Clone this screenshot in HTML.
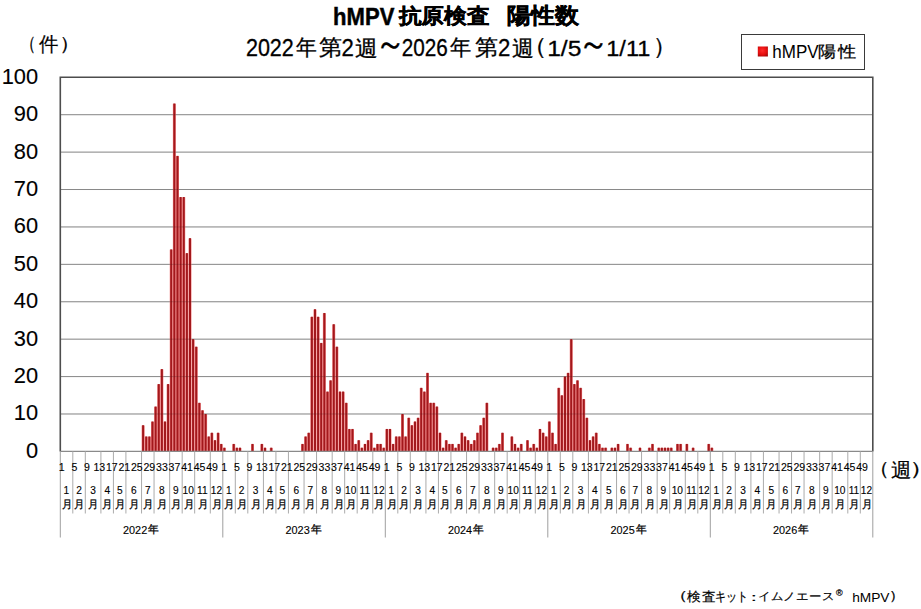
<!DOCTYPE html>
<html><head><meta charset="utf-8">
<style>
html,body{margin:0;padding:0;background:#fff;}
body{width:921px;height:609px;position:relative;overflow:hidden;font-family:"Liberation Sans", sans-serif;}
svg{position:absolute;left:0;top:0;}
</style></head><body>
<svg width="921" height="609" viewBox="0 0 921 609" font-family='"Liberation Sans", sans-serif' fill="#000">
<defs><radialGradient id="mk" cx="0.45" cy="0.4" r="0.7"><stop offset="0" stop-color="#ff2a2a"/><stop offset="0.6" stop-color="#e60f0f"/><stop offset="1" stop-color="#a00808"/></radialGradient></defs>
<rect x="741.5" y="34.5" width="123" height="35" fill="#fff" stroke="#3a3a3a" stroke-width="1"/>
<rect x="757.8" y="46.5" width="10.1" height="10" fill="url(#mk)"/>
<line x1="60.3" y1="413.99" x2="872.80" y2="413.99" stroke="#a0a0a0" stroke-width="1"/>
<line x1="60.3" y1="376.58" x2="872.80" y2="376.58" stroke="#a0a0a0" stroke-width="1"/>
<line x1="60.3" y1="339.17" x2="872.80" y2="339.17" stroke="#a0a0a0" stroke-width="1"/>
<line x1="60.3" y1="301.76" x2="872.80" y2="301.76" stroke="#a0a0a0" stroke-width="1"/>
<line x1="60.3" y1="264.35" x2="872.80" y2="264.35" stroke="#a0a0a0" stroke-width="1"/>
<line x1="60.3" y1="226.94" x2="872.80" y2="226.94" stroke="#a0a0a0" stroke-width="1"/>
<line x1="60.3" y1="189.53" x2="872.80" y2="189.53" stroke="#a0a0a0" stroke-width="1"/>
<line x1="60.3" y1="152.12" x2="872.80" y2="152.12" stroke="#a0a0a0" stroke-width="1"/>
<line x1="60.3" y1="114.71" x2="872.80" y2="114.71" stroke="#a0a0a0" stroke-width="1"/>
<rect x="141.61" y="425.51" width="3.0" height="25.89" fill="#f38282"/>
<rect x="144.74" y="436.74" width="3.0" height="14.66" fill="#f38282"/>
<rect x="147.86" y="436.74" width="3.0" height="14.66" fill="#f38282"/>
<rect x="150.99" y="421.77" width="3.0" height="29.63" fill="#f38282"/>
<rect x="154.11" y="406.81" width="3.0" height="44.59" fill="#f38282"/>
<rect x="157.24" y="384.36" width="3.0" height="67.04" fill="#f38282"/>
<rect x="160.36" y="369.40" width="3.0" height="82.00" fill="#f38282"/>
<rect x="163.49" y="421.77" width="3.0" height="29.63" fill="#f38282"/>
<rect x="166.61" y="384.36" width="3.0" height="67.04" fill="#f38282"/>
<rect x="169.74" y="249.69" width="3.0" height="201.71" fill="#f38282"/>
<rect x="172.86" y="103.79" width="3.0" height="347.61" fill="#f38282"/>
<rect x="175.99" y="156.16" width="3.0" height="295.24" fill="#f38282"/>
<rect x="179.11" y="197.31" width="3.0" height="254.09" fill="#f38282"/>
<rect x="182.24" y="197.31" width="3.0" height="254.09" fill="#f38282"/>
<rect x="185.36" y="253.43" width="3.0" height="197.97" fill="#f38282"/>
<rect x="188.49" y="238.46" width="3.0" height="212.94" fill="#f38282"/>
<rect x="191.61" y="339.47" width="3.0" height="111.93" fill="#f38282"/>
<rect x="194.74" y="346.95" width="3.0" height="104.45" fill="#f38282"/>
<rect x="197.86" y="403.07" width="3.0" height="48.33" fill="#f38282"/>
<rect x="200.99" y="410.55" width="3.0" height="40.85" fill="#f38282"/>
<rect x="204.11" y="414.29" width="3.0" height="37.11" fill="#f38282"/>
<rect x="207.24" y="436.74" width="3.0" height="14.66" fill="#f38282"/>
<rect x="210.36" y="433.00" width="3.0" height="18.41" fill="#f38282"/>
<rect x="213.49" y="440.48" width="3.0" height="10.92" fill="#f38282"/>
<rect x="216.61" y="433.00" width="3.0" height="18.41" fill="#f38282"/>
<rect x="219.74" y="444.22" width="3.0" height="7.18" fill="#f38282"/>
<rect x="222.86" y="447.96" width="3.0" height="3.44" fill="#f38282"/>
<rect x="232.24" y="444.22" width="3.0" height="7.18" fill="#f38282"/>
<rect x="235.36" y="447.96" width="3.0" height="3.44" fill="#f38282"/>
<rect x="238.49" y="447.96" width="3.0" height="3.44" fill="#f38282"/>
<rect x="250.99" y="444.22" width="3.0" height="7.18" fill="#f38282"/>
<rect x="260.36" y="444.22" width="3.0" height="7.18" fill="#f38282"/>
<rect x="263.49" y="447.96" width="3.0" height="3.44" fill="#f38282"/>
<rect x="269.74" y="447.96" width="3.0" height="3.44" fill="#f38282"/>
<rect x="300.99" y="444.22" width="3.0" height="7.18" fill="#f38282"/>
<rect x="304.11" y="436.74" width="3.0" height="14.66" fill="#f38282"/>
<rect x="307.24" y="433.00" width="3.0" height="18.41" fill="#f38282"/>
<rect x="310.36" y="317.02" width="3.0" height="134.38" fill="#f38282"/>
<rect x="313.49" y="309.54" width="3.0" height="141.86" fill="#f38282"/>
<rect x="316.61" y="317.02" width="3.0" height="134.38" fill="#f38282"/>
<rect x="319.74" y="343.21" width="3.0" height="108.19" fill="#f38282"/>
<rect x="322.86" y="313.28" width="3.0" height="138.12" fill="#f38282"/>
<rect x="325.99" y="391.84" width="3.0" height="59.56" fill="#f38282"/>
<rect x="329.11" y="380.62" width="3.0" height="70.78" fill="#f38282"/>
<rect x="332.24" y="324.51" width="3.0" height="126.89" fill="#f38282"/>
<rect x="335.36" y="346.95" width="3.0" height="104.45" fill="#f38282"/>
<rect x="338.49" y="391.84" width="3.0" height="59.56" fill="#f38282"/>
<rect x="341.61" y="391.84" width="3.0" height="59.56" fill="#f38282"/>
<rect x="344.74" y="403.07" width="3.0" height="48.33" fill="#f38282"/>
<rect x="347.86" y="429.25" width="3.0" height="22.15" fill="#f38282"/>
<rect x="350.99" y="429.25" width="3.0" height="22.15" fill="#f38282"/>
<rect x="354.11" y="444.22" width="3.0" height="7.18" fill="#f38282"/>
<rect x="357.24" y="440.48" width="3.0" height="10.92" fill="#f38282"/>
<rect x="360.36" y="447.96" width="3.0" height="3.44" fill="#f38282"/>
<rect x="363.49" y="444.22" width="3.0" height="7.18" fill="#f38282"/>
<rect x="366.61" y="440.48" width="3.0" height="10.92" fill="#f38282"/>
<rect x="369.74" y="433.00" width="3.0" height="18.41" fill="#f38282"/>
<rect x="372.86" y="447.96" width="3.0" height="3.44" fill="#f38282"/>
<rect x="375.99" y="444.22" width="3.0" height="7.18" fill="#f38282"/>
<rect x="379.11" y="444.22" width="3.0" height="7.18" fill="#f38282"/>
<rect x="382.24" y="447.96" width="3.0" height="3.44" fill="#f38282"/>
<rect x="385.36" y="429.25" width="3.0" height="22.15" fill="#f38282"/>
<rect x="388.49" y="429.25" width="3.0" height="22.15" fill="#f38282"/>
<rect x="391.61" y="444.22" width="3.0" height="7.18" fill="#f38282"/>
<rect x="394.74" y="436.74" width="3.0" height="14.66" fill="#f38282"/>
<rect x="397.86" y="436.74" width="3.0" height="14.66" fill="#f38282"/>
<rect x="400.99" y="414.29" width="3.0" height="37.11" fill="#f38282"/>
<rect x="404.11" y="436.74" width="3.0" height="14.66" fill="#f38282"/>
<rect x="407.24" y="418.03" width="3.0" height="33.37" fill="#f38282"/>
<rect x="410.36" y="425.51" width="3.0" height="25.89" fill="#f38282"/>
<rect x="413.49" y="421.77" width="3.0" height="29.63" fill="#f38282"/>
<rect x="416.61" y="418.03" width="3.0" height="33.37" fill="#f38282"/>
<rect x="419.74" y="388.10" width="3.0" height="63.30" fill="#f38282"/>
<rect x="422.86" y="391.84" width="3.0" height="59.56" fill="#f38282"/>
<rect x="425.99" y="373.14" width="3.0" height="78.26" fill="#f38282"/>
<rect x="429.11" y="403.07" width="3.0" height="48.33" fill="#f38282"/>
<rect x="432.24" y="403.07" width="3.0" height="48.33" fill="#f38282"/>
<rect x="435.36" y="406.81" width="3.0" height="44.59" fill="#f38282"/>
<rect x="438.49" y="433.00" width="3.0" height="18.41" fill="#f38282"/>
<rect x="441.61" y="447.96" width="3.0" height="3.44" fill="#f38282"/>
<rect x="444.74" y="440.48" width="3.0" height="10.92" fill="#f38282"/>
<rect x="447.86" y="444.22" width="3.0" height="7.18" fill="#f38282"/>
<rect x="450.99" y="444.22" width="3.0" height="7.18" fill="#f38282"/>
<rect x="454.11" y="447.96" width="3.0" height="3.44" fill="#f38282"/>
<rect x="457.24" y="444.22" width="3.0" height="7.18" fill="#f38282"/>
<rect x="460.36" y="433.00" width="3.0" height="18.41" fill="#f38282"/>
<rect x="463.49" y="436.74" width="3.0" height="14.66" fill="#f38282"/>
<rect x="466.61" y="440.48" width="3.0" height="10.92" fill="#f38282"/>
<rect x="469.74" y="444.22" width="3.0" height="7.18" fill="#f38282"/>
<rect x="472.86" y="440.48" width="3.0" height="10.92" fill="#f38282"/>
<rect x="475.99" y="433.00" width="3.0" height="18.41" fill="#f38282"/>
<rect x="479.11" y="425.51" width="3.0" height="25.89" fill="#f38282"/>
<rect x="482.24" y="418.03" width="3.0" height="33.37" fill="#f38282"/>
<rect x="485.36" y="403.07" width="3.0" height="48.33" fill="#f38282"/>
<rect x="491.61" y="447.96" width="3.0" height="3.44" fill="#f38282"/>
<rect x="494.74" y="447.96" width="3.0" height="3.44" fill="#f38282"/>
<rect x="497.86" y="444.22" width="3.0" height="7.18" fill="#f38282"/>
<rect x="500.99" y="433.00" width="3.0" height="18.41" fill="#f38282"/>
<rect x="510.36" y="436.74" width="3.0" height="14.66" fill="#f38282"/>
<rect x="513.49" y="444.22" width="3.0" height="7.18" fill="#f38282"/>
<rect x="516.61" y="447.96" width="3.0" height="3.44" fill="#f38282"/>
<rect x="519.74" y="444.22" width="3.0" height="7.18" fill="#f38282"/>
<rect x="525.99" y="440.48" width="3.0" height="10.92" fill="#f38282"/>
<rect x="529.11" y="447.96" width="3.0" height="3.44" fill="#f38282"/>
<rect x="532.24" y="444.22" width="3.0" height="7.18" fill="#f38282"/>
<rect x="535.36" y="447.96" width="3.0" height="3.44" fill="#f38282"/>
<rect x="538.49" y="429.25" width="3.0" height="22.15" fill="#f38282"/>
<rect x="541.61" y="433.00" width="3.0" height="18.41" fill="#f38282"/>
<rect x="544.74" y="436.74" width="3.0" height="14.66" fill="#f38282"/>
<rect x="547.86" y="421.77" width="3.0" height="29.63" fill="#f38282"/>
<rect x="550.99" y="433.00" width="3.0" height="18.41" fill="#f38282"/>
<rect x="554.11" y="444.22" width="3.0" height="7.18" fill="#f38282"/>
<rect x="557.24" y="388.10" width="3.0" height="63.30" fill="#f38282"/>
<rect x="560.36" y="395.58" width="3.0" height="55.82" fill="#f38282"/>
<rect x="563.49" y="376.88" width="3.0" height="74.52" fill="#f38282"/>
<rect x="566.61" y="373.14" width="3.0" height="78.26" fill="#f38282"/>
<rect x="569.74" y="339.47" width="3.0" height="111.93" fill="#f38282"/>
<rect x="572.86" y="384.36" width="3.0" height="67.04" fill="#f38282"/>
<rect x="575.99" y="380.62" width="3.0" height="70.78" fill="#f38282"/>
<rect x="579.11" y="388.10" width="3.0" height="63.30" fill="#f38282"/>
<rect x="582.24" y="399.33" width="3.0" height="52.07" fill="#f38282"/>
<rect x="585.36" y="418.03" width="3.0" height="33.37" fill="#f38282"/>
<rect x="588.49" y="440.48" width="3.0" height="10.92" fill="#f38282"/>
<rect x="591.61" y="436.74" width="3.0" height="14.66" fill="#f38282"/>
<rect x="594.74" y="433.00" width="3.0" height="18.41" fill="#f38282"/>
<rect x="597.86" y="444.22" width="3.0" height="7.18" fill="#f38282"/>
<rect x="600.99" y="447.96" width="3.0" height="3.44" fill="#f38282"/>
<rect x="604.11" y="447.96" width="3.0" height="3.44" fill="#f38282"/>
<rect x="610.36" y="447.96" width="3.0" height="3.44" fill="#f38282"/>
<rect x="613.49" y="447.96" width="3.0" height="3.44" fill="#f38282"/>
<rect x="616.61" y="444.22" width="3.0" height="7.18" fill="#f38282"/>
<rect x="625.99" y="444.22" width="3.0" height="7.18" fill="#f38282"/>
<rect x="629.11" y="447.96" width="3.0" height="3.44" fill="#f38282"/>
<rect x="638.49" y="447.96" width="3.0" height="3.44" fill="#f38282"/>
<rect x="647.86" y="447.96" width="3.0" height="3.44" fill="#f38282"/>
<rect x="650.99" y="444.22" width="3.0" height="7.18" fill="#f38282"/>
<rect x="657.24" y="447.96" width="3.0" height="3.44" fill="#f38282"/>
<rect x="660.36" y="447.96" width="3.0" height="3.44" fill="#f38282"/>
<rect x="663.49" y="447.96" width="3.0" height="3.44" fill="#f38282"/>
<rect x="666.61" y="447.96" width="3.0" height="3.44" fill="#f38282"/>
<rect x="669.74" y="447.96" width="3.0" height="3.44" fill="#f38282"/>
<rect x="675.99" y="444.22" width="3.0" height="7.18" fill="#f38282"/>
<rect x="679.11" y="444.22" width="3.0" height="7.18" fill="#f38282"/>
<rect x="685.36" y="444.22" width="3.0" height="7.18" fill="#f38282"/>
<rect x="691.61" y="447.96" width="3.0" height="3.44" fill="#f38282"/>
<rect x="707.24" y="444.22" width="3.0" height="7.18" fill="#f38282"/>
<rect x="710.36" y="447.96" width="3.0" height="3.44" fill="#f38282"/>
<rect x="142.11" y="425.21" width="2.0" height="26.19" fill="#a2181c"/>
<rect x="145.24" y="436.44" width="2.0" height="14.96" fill="#a2181c"/>
<rect x="148.36" y="436.44" width="2.0" height="14.96" fill="#a2181c"/>
<rect x="151.49" y="421.47" width="2.0" height="29.93" fill="#a2181c"/>
<rect x="154.61" y="406.51" width="2.0" height="44.89" fill="#a2181c"/>
<rect x="157.74" y="384.06" width="2.0" height="67.34" fill="#a2181c"/>
<rect x="160.86" y="369.10" width="2.0" height="82.30" fill="#a2181c"/>
<rect x="163.99" y="421.47" width="2.0" height="29.93" fill="#a2181c"/>
<rect x="167.11" y="384.06" width="2.0" height="67.34" fill="#a2181c"/>
<rect x="170.24" y="249.39" width="2.0" height="202.01" fill="#a2181c"/>
<rect x="173.36" y="103.49" width="2.0" height="347.91" fill="#a2181c"/>
<rect x="176.49" y="155.86" width="2.0" height="295.54" fill="#a2181c"/>
<rect x="179.61" y="197.01" width="2.0" height="254.39" fill="#a2181c"/>
<rect x="182.74" y="197.01" width="2.0" height="254.39" fill="#a2181c"/>
<rect x="185.86" y="253.13" width="2.0" height="198.27" fill="#a2181c"/>
<rect x="188.99" y="238.16" width="2.0" height="213.24" fill="#a2181c"/>
<rect x="192.11" y="339.17" width="2.0" height="112.23" fill="#a2181c"/>
<rect x="195.24" y="346.65" width="2.0" height="104.75" fill="#a2181c"/>
<rect x="198.36" y="402.77" width="2.0" height="48.63" fill="#a2181c"/>
<rect x="201.49" y="410.25" width="2.0" height="41.15" fill="#a2181c"/>
<rect x="204.61" y="413.99" width="2.0" height="37.41" fill="#a2181c"/>
<rect x="207.74" y="436.44" width="2.0" height="14.96" fill="#a2181c"/>
<rect x="210.86" y="432.69" width="2.0" height="18.71" fill="#a2181c"/>
<rect x="213.99" y="440.18" width="2.0" height="11.22" fill="#a2181c"/>
<rect x="217.11" y="432.69" width="2.0" height="18.71" fill="#a2181c"/>
<rect x="220.24" y="443.92" width="2.0" height="7.48" fill="#a2181c"/>
<rect x="223.36" y="447.66" width="2.0" height="3.74" fill="#a2181c"/>
<rect x="232.74" y="443.92" width="2.0" height="7.48" fill="#a2181c"/>
<rect x="235.86" y="447.66" width="2.0" height="3.74" fill="#a2181c"/>
<rect x="238.99" y="447.66" width="2.0" height="3.74" fill="#a2181c"/>
<rect x="251.49" y="443.92" width="2.0" height="7.48" fill="#a2181c"/>
<rect x="260.86" y="443.92" width="2.0" height="7.48" fill="#a2181c"/>
<rect x="263.99" y="447.66" width="2.0" height="3.74" fill="#a2181c"/>
<rect x="270.24" y="447.66" width="2.0" height="3.74" fill="#a2181c"/>
<rect x="301.49" y="443.92" width="2.0" height="7.48" fill="#a2181c"/>
<rect x="304.61" y="436.44" width="2.0" height="14.96" fill="#a2181c"/>
<rect x="307.74" y="432.69" width="2.0" height="18.71" fill="#a2181c"/>
<rect x="310.86" y="316.72" width="2.0" height="134.68" fill="#a2181c"/>
<rect x="313.99" y="309.24" width="2.0" height="142.16" fill="#a2181c"/>
<rect x="317.11" y="316.72" width="2.0" height="134.68" fill="#a2181c"/>
<rect x="320.24" y="342.91" width="2.0" height="108.49" fill="#a2181c"/>
<rect x="323.36" y="312.98" width="2.0" height="138.42" fill="#a2181c"/>
<rect x="326.49" y="391.54" width="2.0" height="59.86" fill="#a2181c"/>
<rect x="329.61" y="380.32" width="2.0" height="71.08" fill="#a2181c"/>
<rect x="332.74" y="324.21" width="2.0" height="127.19" fill="#a2181c"/>
<rect x="335.86" y="346.65" width="2.0" height="104.75" fill="#a2181c"/>
<rect x="338.99" y="391.54" width="2.0" height="59.86" fill="#a2181c"/>
<rect x="342.11" y="391.54" width="2.0" height="59.86" fill="#a2181c"/>
<rect x="345.24" y="402.77" width="2.0" height="48.63" fill="#a2181c"/>
<rect x="348.36" y="428.95" width="2.0" height="22.45" fill="#a2181c"/>
<rect x="351.49" y="428.95" width="2.0" height="22.45" fill="#a2181c"/>
<rect x="354.61" y="443.92" width="2.0" height="7.48" fill="#a2181c"/>
<rect x="357.74" y="440.18" width="2.0" height="11.22" fill="#a2181c"/>
<rect x="360.86" y="447.66" width="2.0" height="3.74" fill="#a2181c"/>
<rect x="363.99" y="443.92" width="2.0" height="7.48" fill="#a2181c"/>
<rect x="367.11" y="440.18" width="2.0" height="11.22" fill="#a2181c"/>
<rect x="370.24" y="432.69" width="2.0" height="18.71" fill="#a2181c"/>
<rect x="373.36" y="447.66" width="2.0" height="3.74" fill="#a2181c"/>
<rect x="376.49" y="443.92" width="2.0" height="7.48" fill="#a2181c"/>
<rect x="379.61" y="443.92" width="2.0" height="7.48" fill="#a2181c"/>
<rect x="382.74" y="447.66" width="2.0" height="3.74" fill="#a2181c"/>
<rect x="385.86" y="428.95" width="2.0" height="22.45" fill="#a2181c"/>
<rect x="388.99" y="428.95" width="2.0" height="22.45" fill="#a2181c"/>
<rect x="392.11" y="443.92" width="2.0" height="7.48" fill="#a2181c"/>
<rect x="395.24" y="436.44" width="2.0" height="14.96" fill="#a2181c"/>
<rect x="398.36" y="436.44" width="2.0" height="14.96" fill="#a2181c"/>
<rect x="401.49" y="413.99" width="2.0" height="37.41" fill="#a2181c"/>
<rect x="404.61" y="436.44" width="2.0" height="14.96" fill="#a2181c"/>
<rect x="407.74" y="417.73" width="2.0" height="33.67" fill="#a2181c"/>
<rect x="410.86" y="425.21" width="2.0" height="26.19" fill="#a2181c"/>
<rect x="413.99" y="421.47" width="2.0" height="29.93" fill="#a2181c"/>
<rect x="417.11" y="417.73" width="2.0" height="33.67" fill="#a2181c"/>
<rect x="420.24" y="387.80" width="2.0" height="63.60" fill="#a2181c"/>
<rect x="423.36" y="391.54" width="2.0" height="59.86" fill="#a2181c"/>
<rect x="426.49" y="372.84" width="2.0" height="78.56" fill="#a2181c"/>
<rect x="429.61" y="402.77" width="2.0" height="48.63" fill="#a2181c"/>
<rect x="432.74" y="402.77" width="2.0" height="48.63" fill="#a2181c"/>
<rect x="435.86" y="406.51" width="2.0" height="44.89" fill="#a2181c"/>
<rect x="438.99" y="432.69" width="2.0" height="18.71" fill="#a2181c"/>
<rect x="442.11" y="447.66" width="2.0" height="3.74" fill="#a2181c"/>
<rect x="445.24" y="440.18" width="2.0" height="11.22" fill="#a2181c"/>
<rect x="448.36" y="443.92" width="2.0" height="7.48" fill="#a2181c"/>
<rect x="451.49" y="443.92" width="2.0" height="7.48" fill="#a2181c"/>
<rect x="454.61" y="447.66" width="2.0" height="3.74" fill="#a2181c"/>
<rect x="457.74" y="443.92" width="2.0" height="7.48" fill="#a2181c"/>
<rect x="460.86" y="432.69" width="2.0" height="18.71" fill="#a2181c"/>
<rect x="463.99" y="436.44" width="2.0" height="14.96" fill="#a2181c"/>
<rect x="467.11" y="440.18" width="2.0" height="11.22" fill="#a2181c"/>
<rect x="470.24" y="443.92" width="2.0" height="7.48" fill="#a2181c"/>
<rect x="473.36" y="440.18" width="2.0" height="11.22" fill="#a2181c"/>
<rect x="476.49" y="432.69" width="2.0" height="18.71" fill="#a2181c"/>
<rect x="479.61" y="425.21" width="2.0" height="26.19" fill="#a2181c"/>
<rect x="482.74" y="417.73" width="2.0" height="33.67" fill="#a2181c"/>
<rect x="485.86" y="402.77" width="2.0" height="48.63" fill="#a2181c"/>
<rect x="492.11" y="447.66" width="2.0" height="3.74" fill="#a2181c"/>
<rect x="495.24" y="447.66" width="2.0" height="3.74" fill="#a2181c"/>
<rect x="498.36" y="443.92" width="2.0" height="7.48" fill="#a2181c"/>
<rect x="501.49" y="432.69" width="2.0" height="18.71" fill="#a2181c"/>
<rect x="510.86" y="436.44" width="2.0" height="14.96" fill="#a2181c"/>
<rect x="513.99" y="443.92" width="2.0" height="7.48" fill="#a2181c"/>
<rect x="517.11" y="447.66" width="2.0" height="3.74" fill="#a2181c"/>
<rect x="520.24" y="443.92" width="2.0" height="7.48" fill="#a2181c"/>
<rect x="526.49" y="440.18" width="2.0" height="11.22" fill="#a2181c"/>
<rect x="529.61" y="447.66" width="2.0" height="3.74" fill="#a2181c"/>
<rect x="532.74" y="443.92" width="2.0" height="7.48" fill="#a2181c"/>
<rect x="535.86" y="447.66" width="2.0" height="3.74" fill="#a2181c"/>
<rect x="538.99" y="428.95" width="2.0" height="22.45" fill="#a2181c"/>
<rect x="542.11" y="432.69" width="2.0" height="18.71" fill="#a2181c"/>
<rect x="545.24" y="436.44" width="2.0" height="14.96" fill="#a2181c"/>
<rect x="548.36" y="421.47" width="2.0" height="29.93" fill="#a2181c"/>
<rect x="551.49" y="432.69" width="2.0" height="18.71" fill="#a2181c"/>
<rect x="554.61" y="443.92" width="2.0" height="7.48" fill="#a2181c"/>
<rect x="557.74" y="387.80" width="2.0" height="63.60" fill="#a2181c"/>
<rect x="560.86" y="395.28" width="2.0" height="56.12" fill="#a2181c"/>
<rect x="563.99" y="376.58" width="2.0" height="74.82" fill="#a2181c"/>
<rect x="567.11" y="372.84" width="2.0" height="78.56" fill="#a2181c"/>
<rect x="570.24" y="339.17" width="2.0" height="112.23" fill="#a2181c"/>
<rect x="573.36" y="384.06" width="2.0" height="67.34" fill="#a2181c"/>
<rect x="576.49" y="380.32" width="2.0" height="71.08" fill="#a2181c"/>
<rect x="579.61" y="387.80" width="2.0" height="63.60" fill="#a2181c"/>
<rect x="582.74" y="399.03" width="2.0" height="52.37" fill="#a2181c"/>
<rect x="585.86" y="417.73" width="2.0" height="33.67" fill="#a2181c"/>
<rect x="588.99" y="440.18" width="2.0" height="11.22" fill="#a2181c"/>
<rect x="592.11" y="436.44" width="2.0" height="14.96" fill="#a2181c"/>
<rect x="595.24" y="432.69" width="2.0" height="18.71" fill="#a2181c"/>
<rect x="598.36" y="443.92" width="2.0" height="7.48" fill="#a2181c"/>
<rect x="601.49" y="447.66" width="2.0" height="3.74" fill="#a2181c"/>
<rect x="604.61" y="447.66" width="2.0" height="3.74" fill="#a2181c"/>
<rect x="610.86" y="447.66" width="2.0" height="3.74" fill="#a2181c"/>
<rect x="613.99" y="447.66" width="2.0" height="3.74" fill="#a2181c"/>
<rect x="617.11" y="443.92" width="2.0" height="7.48" fill="#a2181c"/>
<rect x="626.49" y="443.92" width="2.0" height="7.48" fill="#a2181c"/>
<rect x="629.61" y="447.66" width="2.0" height="3.74" fill="#a2181c"/>
<rect x="638.99" y="447.66" width="2.0" height="3.74" fill="#a2181c"/>
<rect x="648.36" y="447.66" width="2.0" height="3.74" fill="#a2181c"/>
<rect x="651.49" y="443.92" width="2.0" height="7.48" fill="#a2181c"/>
<rect x="657.74" y="447.66" width="2.0" height="3.74" fill="#a2181c"/>
<rect x="660.86" y="447.66" width="2.0" height="3.74" fill="#a2181c"/>
<rect x="663.99" y="447.66" width="2.0" height="3.74" fill="#a2181c"/>
<rect x="667.11" y="447.66" width="2.0" height="3.74" fill="#a2181c"/>
<rect x="670.24" y="447.66" width="2.0" height="3.74" fill="#a2181c"/>
<rect x="676.49" y="443.92" width="2.0" height="7.48" fill="#a2181c"/>
<rect x="679.61" y="443.92" width="2.0" height="7.48" fill="#a2181c"/>
<rect x="685.86" y="443.92" width="2.0" height="7.48" fill="#a2181c"/>
<rect x="692.11" y="447.66" width="2.0" height="3.74" fill="#a2181c"/>
<rect x="707.74" y="443.92" width="2.0" height="7.48" fill="#a2181c"/>
<rect x="710.86" y="447.66" width="2.0" height="3.74" fill="#a2181c"/>
<line x1="60.3" y1="413.99" x2="872.80" y2="413.99" stroke="#000" stroke-opacity="0.15" stroke-width="1"/>
<line x1="60.3" y1="376.58" x2="872.80" y2="376.58" stroke="#000" stroke-opacity="0.15" stroke-width="1"/>
<line x1="60.3" y1="339.17" x2="872.80" y2="339.17" stroke="#000" stroke-opacity="0.15" stroke-width="1"/>
<line x1="60.3" y1="301.76" x2="872.80" y2="301.76" stroke="#000" stroke-opacity="0.15" stroke-width="1"/>
<line x1="60.3" y1="264.35" x2="872.80" y2="264.35" stroke="#000" stroke-opacity="0.15" stroke-width="1"/>
<line x1="60.3" y1="226.94" x2="872.80" y2="226.94" stroke="#000" stroke-opacity="0.15" stroke-width="1"/>
<line x1="60.3" y1="189.53" x2="872.80" y2="189.53" stroke="#000" stroke-opacity="0.15" stroke-width="1"/>
<line x1="60.3" y1="152.12" x2="872.80" y2="152.12" stroke="#000" stroke-opacity="0.15" stroke-width="1"/>
<line x1="60.3" y1="114.71" x2="872.80" y2="114.71" stroke="#000" stroke-opacity="0.15" stroke-width="1"/>
<path d="M60.3,451.4 V77.3 H872.80 V451.4" fill="none" stroke="#4d4d4d" stroke-width="1.6"/>
<line x1="60.3" y1="451.4" x2="872.80" y2="451.4" stroke="#8a8a8a" stroke-width="1.1"/>
<line x1="60.30" y1="451.4" x2="60.30" y2="537.5" stroke="#9f9f9f" stroke-width="1"/>
<line x1="72.80" y1="451.4" x2="72.80" y2="513.5" stroke="#ababab" stroke-width="1"/>
<line x1="85.30" y1="451.4" x2="85.30" y2="513.5" stroke="#ababab" stroke-width="1"/>
<line x1="100.92" y1="451.4" x2="100.92" y2="513.5" stroke="#ababab" stroke-width="1"/>
<line x1="113.42" y1="451.4" x2="113.42" y2="513.5" stroke="#ababab" stroke-width="1"/>
<line x1="125.92" y1="451.4" x2="125.92" y2="513.5" stroke="#ababab" stroke-width="1"/>
<line x1="141.55" y1="451.4" x2="141.55" y2="513.5" stroke="#ababab" stroke-width="1"/>
<line x1="154.05" y1="451.4" x2="154.05" y2="513.5" stroke="#ababab" stroke-width="1"/>
<line x1="169.68" y1="451.4" x2="169.68" y2="513.5" stroke="#ababab" stroke-width="1"/>
<line x1="182.18" y1="451.4" x2="182.18" y2="513.5" stroke="#ababab" stroke-width="1"/>
<line x1="194.68" y1="451.4" x2="194.68" y2="513.5" stroke="#ababab" stroke-width="1"/>
<line x1="210.30" y1="451.4" x2="210.30" y2="513.5" stroke="#ababab" stroke-width="1"/>
<line x1="222.80" y1="451.4" x2="222.80" y2="537.5" stroke="#9f9f9f" stroke-width="1"/>
<line x1="235.30" y1="451.4" x2="235.30" y2="513.5" stroke="#ababab" stroke-width="1"/>
<line x1="247.80" y1="451.4" x2="247.80" y2="513.5" stroke="#ababab" stroke-width="1"/>
<line x1="263.43" y1="451.4" x2="263.43" y2="513.5" stroke="#ababab" stroke-width="1"/>
<line x1="275.93" y1="451.4" x2="275.93" y2="513.5" stroke="#ababab" stroke-width="1"/>
<line x1="288.43" y1="451.4" x2="288.43" y2="513.5" stroke="#ababab" stroke-width="1"/>
<line x1="304.05" y1="451.4" x2="304.05" y2="513.5" stroke="#ababab" stroke-width="1"/>
<line x1="316.55" y1="451.4" x2="316.55" y2="513.5" stroke="#ababab" stroke-width="1"/>
<line x1="332.18" y1="451.4" x2="332.18" y2="513.5" stroke="#ababab" stroke-width="1"/>
<line x1="344.68" y1="451.4" x2="344.68" y2="513.5" stroke="#ababab" stroke-width="1"/>
<line x1="357.18" y1="451.4" x2="357.18" y2="513.5" stroke="#ababab" stroke-width="1"/>
<line x1="372.80" y1="451.4" x2="372.80" y2="513.5" stroke="#ababab" stroke-width="1"/>
<line x1="385.30" y1="451.4" x2="385.30" y2="537.5" stroke="#9f9f9f" stroke-width="1"/>
<line x1="397.80" y1="451.4" x2="397.80" y2="513.5" stroke="#ababab" stroke-width="1"/>
<line x1="410.30" y1="451.4" x2="410.30" y2="513.5" stroke="#ababab" stroke-width="1"/>
<line x1="425.93" y1="451.4" x2="425.93" y2="513.5" stroke="#ababab" stroke-width="1"/>
<line x1="438.43" y1="451.4" x2="438.43" y2="513.5" stroke="#ababab" stroke-width="1"/>
<line x1="450.93" y1="451.4" x2="450.93" y2="513.5" stroke="#ababab" stroke-width="1"/>
<line x1="466.55" y1="451.4" x2="466.55" y2="513.5" stroke="#ababab" stroke-width="1"/>
<line x1="479.05" y1="451.4" x2="479.05" y2="513.5" stroke="#ababab" stroke-width="1"/>
<line x1="494.68" y1="451.4" x2="494.68" y2="513.5" stroke="#ababab" stroke-width="1"/>
<line x1="507.18" y1="451.4" x2="507.18" y2="513.5" stroke="#ababab" stroke-width="1"/>
<line x1="519.67" y1="451.4" x2="519.67" y2="513.5" stroke="#ababab" stroke-width="1"/>
<line x1="535.30" y1="451.4" x2="535.30" y2="513.5" stroke="#ababab" stroke-width="1"/>
<line x1="547.80" y1="451.4" x2="547.80" y2="537.5" stroke="#9f9f9f" stroke-width="1"/>
<line x1="560.30" y1="451.4" x2="560.30" y2="513.5" stroke="#ababab" stroke-width="1"/>
<line x1="572.80" y1="451.4" x2="572.80" y2="513.5" stroke="#ababab" stroke-width="1"/>
<line x1="588.42" y1="451.4" x2="588.42" y2="513.5" stroke="#ababab" stroke-width="1"/>
<line x1="600.92" y1="451.4" x2="600.92" y2="513.5" stroke="#ababab" stroke-width="1"/>
<line x1="616.55" y1="451.4" x2="616.55" y2="513.5" stroke="#ababab" stroke-width="1"/>
<line x1="629.05" y1="451.4" x2="629.05" y2="513.5" stroke="#ababab" stroke-width="1"/>
<line x1="641.55" y1="451.4" x2="641.55" y2="513.5" stroke="#ababab" stroke-width="1"/>
<line x1="657.17" y1="451.4" x2="657.17" y2="513.5" stroke="#ababab" stroke-width="1"/>
<line x1="669.67" y1="451.4" x2="669.67" y2="513.5" stroke="#ababab" stroke-width="1"/>
<line x1="685.30" y1="451.4" x2="685.30" y2="513.5" stroke="#ababab" stroke-width="1"/>
<line x1="697.80" y1="451.4" x2="697.80" y2="513.5" stroke="#ababab" stroke-width="1"/>
<line x1="710.30" y1="451.4" x2="710.30" y2="537.5" stroke="#9f9f9f" stroke-width="1"/>
<line x1="722.80" y1="451.4" x2="722.80" y2="513.5" stroke="#ababab" stroke-width="1"/>
<line x1="735.30" y1="451.4" x2="735.30" y2="513.5" stroke="#ababab" stroke-width="1"/>
<line x1="750.92" y1="451.4" x2="750.92" y2="513.5" stroke="#ababab" stroke-width="1"/>
<line x1="763.42" y1="451.4" x2="763.42" y2="513.5" stroke="#ababab" stroke-width="1"/>
<line x1="779.05" y1="451.4" x2="779.05" y2="513.5" stroke="#ababab" stroke-width="1"/>
<line x1="791.55" y1="451.4" x2="791.55" y2="513.5" stroke="#ababab" stroke-width="1"/>
<line x1="804.05" y1="451.4" x2="804.05" y2="513.5" stroke="#ababab" stroke-width="1"/>
<line x1="819.67" y1="451.4" x2="819.67" y2="513.5" stroke="#ababab" stroke-width="1"/>
<line x1="832.17" y1="451.4" x2="832.17" y2="513.5" stroke="#ababab" stroke-width="1"/>
<line x1="847.80" y1="451.4" x2="847.80" y2="513.5" stroke="#ababab" stroke-width="1"/>
<line x1="860.30" y1="451.4" x2="860.30" y2="513.5" stroke="#ababab" stroke-width="1"/>
<line x1="872.80" y1="451.4" x2="872.80" y2="537.5" stroke="#9f9f9f" stroke-width="1"/>
<text transform="translate(58.82,470.82) scale(0.10538,0.11270)" font-size="100" font-weight="normal" class="lb" stroke="#000" stroke-width="1.10">1</text>
<text transform="translate(71.48,470.82) scale(0.10538,0.11270)" font-size="100" font-weight="normal" class="lb" stroke="#000" stroke-width="1.10">5</text>
<text transform="translate(83.90,470.82) scale(0.10538,0.11270)" font-size="100" font-weight="normal" class="lb" stroke="#000" stroke-width="1.10">9</text>
<text transform="translate(93.39,470.82) scale(0.10538,0.11270)" font-size="100" font-weight="normal" class="lb" stroke="#000" stroke-width="1.10">13</text>
<text transform="translate(105.89,470.82) scale(0.10538,0.11270)" font-size="100" font-weight="normal" class="lb" stroke="#000" stroke-width="1.10">17</text>
<text transform="translate(118.47,470.82) scale(0.10538,0.11270)" font-size="100" font-weight="normal" class="lb" stroke="#000" stroke-width="1.10">21</text>
<text transform="translate(130.97,470.82) scale(0.10538,0.11270)" font-size="100" font-weight="normal" class="lb" stroke="#000" stroke-width="1.10">25</text>
<text transform="translate(143.47,470.82) scale(0.10538,0.11270)" font-size="100" font-weight="normal" class="lb" stroke="#000" stroke-width="1.10">29</text>
<text transform="translate(156.05,470.82) scale(0.10538,0.11270)" font-size="100" font-weight="normal" class="lb" stroke="#000" stroke-width="1.10">33</text>
<text transform="translate(168.55,470.82) scale(0.10538,0.11270)" font-size="100" font-weight="normal" class="lb" stroke="#000" stroke-width="1.10">37</text>
<text transform="translate(181.13,470.82) scale(0.10538,0.11270)" font-size="100" font-weight="normal" class="lb" stroke="#000" stroke-width="1.10">41</text>
<text transform="translate(193.63,470.82) scale(0.10538,0.11270)" font-size="100" font-weight="normal" class="lb" stroke="#000" stroke-width="1.10">45</text>
<text transform="translate(206.13,470.82) scale(0.10538,0.11270)" font-size="100" font-weight="normal" class="lb" stroke="#000" stroke-width="1.10">49</text>
<text transform="translate(221.32,470.82) scale(0.10538,0.11270)" font-size="100" font-weight="normal" class="lb" stroke="#000" stroke-width="1.10">1</text>
<text transform="translate(233.98,470.82) scale(0.10538,0.11270)" font-size="100" font-weight="normal" class="lb" stroke="#000" stroke-width="1.10">5</text>
<text transform="translate(246.40,470.82) scale(0.10538,0.11270)" font-size="100" font-weight="normal" class="lb" stroke="#000" stroke-width="1.10">9</text>
<text transform="translate(255.89,470.82) scale(0.10538,0.11270)" font-size="100" font-weight="normal" class="lb" stroke="#000" stroke-width="1.10">13</text>
<text transform="translate(268.39,470.82) scale(0.10538,0.11270)" font-size="100" font-weight="normal" class="lb" stroke="#000" stroke-width="1.10">17</text>
<text transform="translate(280.97,470.82) scale(0.10538,0.11270)" font-size="100" font-weight="normal" class="lb" stroke="#000" stroke-width="1.10">21</text>
<text transform="translate(293.47,470.82) scale(0.10538,0.11270)" font-size="100" font-weight="normal" class="lb" stroke="#000" stroke-width="1.10">25</text>
<text transform="translate(305.97,470.82) scale(0.10538,0.11270)" font-size="100" font-weight="normal" class="lb" stroke="#000" stroke-width="1.10">29</text>
<text transform="translate(318.55,470.82) scale(0.10538,0.11270)" font-size="100" font-weight="normal" class="lb" stroke="#000" stroke-width="1.10">33</text>
<text transform="translate(331.05,470.82) scale(0.10538,0.11270)" font-size="100" font-weight="normal" class="lb" stroke="#000" stroke-width="1.10">37</text>
<text transform="translate(343.63,470.82) scale(0.10538,0.11270)" font-size="100" font-weight="normal" class="lb" stroke="#000" stroke-width="1.10">41</text>
<text transform="translate(356.13,470.82) scale(0.10538,0.11270)" font-size="100" font-weight="normal" class="lb" stroke="#000" stroke-width="1.10">45</text>
<text transform="translate(368.63,470.82) scale(0.10538,0.11270)" font-size="100" font-weight="normal" class="lb" stroke="#000" stroke-width="1.10">49</text>
<text transform="translate(383.82,470.82) scale(0.10538,0.11270)" font-size="100" font-weight="normal" class="lb" stroke="#000" stroke-width="1.10">1</text>
<text transform="translate(396.48,470.82) scale(0.10538,0.11270)" font-size="100" font-weight="normal" class="lb" stroke="#000" stroke-width="1.10">5</text>
<text transform="translate(408.90,470.82) scale(0.10538,0.11270)" font-size="100" font-weight="normal" class="lb" stroke="#000" stroke-width="1.10">9</text>
<text transform="translate(418.39,470.82) scale(0.10538,0.11270)" font-size="100" font-weight="normal" class="lb" stroke="#000" stroke-width="1.10">13</text>
<text transform="translate(430.89,470.82) scale(0.10538,0.11270)" font-size="100" font-weight="normal" class="lb" stroke="#000" stroke-width="1.10">17</text>
<text transform="translate(443.47,470.82) scale(0.10538,0.11270)" font-size="100" font-weight="normal" class="lb" stroke="#000" stroke-width="1.10">21</text>
<text transform="translate(455.97,470.82) scale(0.10538,0.11270)" font-size="100" font-weight="normal" class="lb" stroke="#000" stroke-width="1.10">25</text>
<text transform="translate(468.47,470.82) scale(0.10538,0.11270)" font-size="100" font-weight="normal" class="lb" stroke="#000" stroke-width="1.10">29</text>
<text transform="translate(481.05,470.82) scale(0.10538,0.11270)" font-size="100" font-weight="normal" class="lb" stroke="#000" stroke-width="1.10">33</text>
<text transform="translate(493.55,470.82) scale(0.10538,0.11270)" font-size="100" font-weight="normal" class="lb" stroke="#000" stroke-width="1.10">37</text>
<text transform="translate(506.13,470.82) scale(0.10538,0.11270)" font-size="100" font-weight="normal" class="lb" stroke="#000" stroke-width="1.10">41</text>
<text transform="translate(518.63,470.82) scale(0.10538,0.11270)" font-size="100" font-weight="normal" class="lb" stroke="#000" stroke-width="1.10">45</text>
<text transform="translate(531.13,470.82) scale(0.10538,0.11270)" font-size="100" font-weight="normal" class="lb" stroke="#000" stroke-width="1.10">49</text>
<text transform="translate(546.32,470.82) scale(0.10538,0.11270)" font-size="100" font-weight="normal" class="lb" stroke="#000" stroke-width="1.10">1</text>
<text transform="translate(558.98,470.82) scale(0.10538,0.11270)" font-size="100" font-weight="normal" class="lb" stroke="#000" stroke-width="1.10">5</text>
<text transform="translate(571.40,470.82) scale(0.10538,0.11270)" font-size="100" font-weight="normal" class="lb" stroke="#000" stroke-width="1.10">9</text>
<text transform="translate(580.89,470.82) scale(0.10538,0.11270)" font-size="100" font-weight="normal" class="lb" stroke="#000" stroke-width="1.10">13</text>
<text transform="translate(593.39,470.82) scale(0.10538,0.11270)" font-size="100" font-weight="normal" class="lb" stroke="#000" stroke-width="1.10">17</text>
<text transform="translate(605.97,470.82) scale(0.10538,0.11270)" font-size="100" font-weight="normal" class="lb" stroke="#000" stroke-width="1.10">21</text>
<text transform="translate(618.47,470.82) scale(0.10538,0.11270)" font-size="100" font-weight="normal" class="lb" stroke="#000" stroke-width="1.10">25</text>
<text transform="translate(630.97,470.82) scale(0.10538,0.11270)" font-size="100" font-weight="normal" class="lb" stroke="#000" stroke-width="1.10">29</text>
<text transform="translate(643.55,470.82) scale(0.10538,0.11270)" font-size="100" font-weight="normal" class="lb" stroke="#000" stroke-width="1.10">33</text>
<text transform="translate(656.05,470.82) scale(0.10538,0.11270)" font-size="100" font-weight="normal" class="lb" stroke="#000" stroke-width="1.10">37</text>
<text transform="translate(668.63,470.82) scale(0.10538,0.11270)" font-size="100" font-weight="normal" class="lb" stroke="#000" stroke-width="1.10">41</text>
<text transform="translate(681.13,470.82) scale(0.10538,0.11270)" font-size="100" font-weight="normal" class="lb" stroke="#000" stroke-width="1.10">45</text>
<text transform="translate(693.63,470.82) scale(0.10538,0.11270)" font-size="100" font-weight="normal" class="lb" stroke="#000" stroke-width="1.10">49</text>
<text transform="translate(708.82,470.82) scale(0.10538,0.11270)" font-size="100" font-weight="normal" class="lb" stroke="#000" stroke-width="1.10">1</text>
<text transform="translate(721.48,470.82) scale(0.10538,0.11270)" font-size="100" font-weight="normal" class="lb" stroke="#000" stroke-width="1.10">5</text>
<text transform="translate(733.90,470.82) scale(0.10538,0.11270)" font-size="100" font-weight="normal" class="lb" stroke="#000" stroke-width="1.10">9</text>
<text transform="translate(743.39,470.82) scale(0.10538,0.11270)" font-size="100" font-weight="normal" class="lb" stroke="#000" stroke-width="1.10">13</text>
<text transform="translate(755.89,470.82) scale(0.10538,0.11270)" font-size="100" font-weight="normal" class="lb" stroke="#000" stroke-width="1.10">17</text>
<text transform="translate(768.47,470.82) scale(0.10538,0.11270)" font-size="100" font-weight="normal" class="lb" stroke="#000" stroke-width="1.10">21</text>
<text transform="translate(780.97,470.82) scale(0.10538,0.11270)" font-size="100" font-weight="normal" class="lb" stroke="#000" stroke-width="1.10">25</text>
<text transform="translate(793.47,470.82) scale(0.10538,0.11270)" font-size="100" font-weight="normal" class="lb" stroke="#000" stroke-width="1.10">29</text>
<text transform="translate(806.05,470.82) scale(0.10538,0.11270)" font-size="100" font-weight="normal" class="lb" stroke="#000" stroke-width="1.10">33</text>
<text transform="translate(818.55,470.82) scale(0.10538,0.11270)" font-size="100" font-weight="normal" class="lb" stroke="#000" stroke-width="1.10">37</text>
<text transform="translate(831.13,470.82) scale(0.10538,0.11270)" font-size="100" font-weight="normal" class="lb" stroke="#000" stroke-width="1.10">41</text>
<text transform="translate(843.63,470.82) scale(0.10538,0.11270)" font-size="100" font-weight="normal" class="lb" stroke="#000" stroke-width="1.10">45</text>
<text transform="translate(856.13,470.82) scale(0.10538,0.11270)" font-size="100" font-weight="normal" class="lb" stroke="#000" stroke-width="1.10">49</text>
<text transform="translate(63.62,493.63) scale(0.10147,0.10852)" font-size="100" font-weight="normal" class="lb" stroke="#000" stroke-width="1.14">1</text>
<text transform="translate(76.20,493.63) scale(0.10147,0.10852)" font-size="100" font-weight="normal" class="lb" stroke="#000" stroke-width="1.14">2</text>
<text transform="translate(90.34,493.63) scale(0.10147,0.10852)" font-size="100" font-weight="normal" class="lb" stroke="#000" stroke-width="1.14">3</text>
<text transform="translate(104.40,493.63) scale(0.10147,0.10852)" font-size="100" font-weight="normal" class="lb" stroke="#000" stroke-width="1.14">4</text>
<text transform="translate(116.90,493.63) scale(0.10147,0.10852)" font-size="100" font-weight="normal" class="lb" stroke="#000" stroke-width="1.14">5</text>
<text transform="translate(130.88,493.63) scale(0.10147,0.10852)" font-size="100" font-weight="normal" class="lb" stroke="#000" stroke-width="1.14">6</text>
<text transform="translate(144.95,493.63) scale(0.10147,0.10852)" font-size="100" font-weight="normal" class="lb" stroke="#000" stroke-width="1.14">7</text>
<text transform="translate(159.09,493.63) scale(0.10147,0.10852)" font-size="100" font-weight="normal" class="lb" stroke="#000" stroke-width="1.14">8</text>
<text transform="translate(173.07,493.63) scale(0.10147,0.10852)" font-size="100" font-weight="normal" class="lb" stroke="#000" stroke-width="1.14">9</text>
<text transform="translate(182.59,493.63) scale(0.10147,0.10852)" font-size="100" font-weight="normal" class="lb" stroke="#000" stroke-width="1.14">10</text>
<text transform="translate(197.11,493.63) scale(0.10147,0.10852)" font-size="100" font-weight="normal" class="lb" stroke="#000" stroke-width="1.14">11</text>
<text transform="translate(210.80,493.63) scale(0.10147,0.10852)" font-size="100" font-weight="normal" class="lb" stroke="#000" stroke-width="1.14">12</text>
<text transform="translate(226.12,493.63) scale(0.10147,0.10852)" font-size="100" font-weight="normal" class="lb" stroke="#000" stroke-width="1.14">1</text>
<text transform="translate(238.70,493.63) scale(0.10147,0.10852)" font-size="100" font-weight="normal" class="lb" stroke="#000" stroke-width="1.14">2</text>
<text transform="translate(252.84,493.63) scale(0.10147,0.10852)" font-size="100" font-weight="normal" class="lb" stroke="#000" stroke-width="1.14">3</text>
<text transform="translate(266.90,493.63) scale(0.10147,0.10852)" font-size="100" font-weight="normal" class="lb" stroke="#000" stroke-width="1.14">4</text>
<text transform="translate(279.40,493.63) scale(0.10147,0.10852)" font-size="100" font-weight="normal" class="lb" stroke="#000" stroke-width="1.14">5</text>
<text transform="translate(293.38,493.63) scale(0.10147,0.10852)" font-size="100" font-weight="normal" class="lb" stroke="#000" stroke-width="1.14">6</text>
<text transform="translate(307.45,493.63) scale(0.10147,0.10852)" font-size="100" font-weight="normal" class="lb" stroke="#000" stroke-width="1.14">7</text>
<text transform="translate(321.59,493.63) scale(0.10147,0.10852)" font-size="100" font-weight="normal" class="lb" stroke="#000" stroke-width="1.14">8</text>
<text transform="translate(335.57,493.63) scale(0.10147,0.10852)" font-size="100" font-weight="normal" class="lb" stroke="#000" stroke-width="1.14">9</text>
<text transform="translate(345.09,493.63) scale(0.10147,0.10852)" font-size="100" font-weight="normal" class="lb" stroke="#000" stroke-width="1.14">10</text>
<text transform="translate(359.61,493.63) scale(0.10147,0.10852)" font-size="100" font-weight="normal" class="lb" stroke="#000" stroke-width="1.14">11</text>
<text transform="translate(373.30,493.63) scale(0.10147,0.10852)" font-size="100" font-weight="normal" class="lb" stroke="#000" stroke-width="1.14">12</text>
<text transform="translate(388.62,493.63) scale(0.10147,0.10852)" font-size="100" font-weight="normal" class="lb" stroke="#000" stroke-width="1.14">1</text>
<text transform="translate(401.20,493.63) scale(0.10147,0.10852)" font-size="100" font-weight="normal" class="lb" stroke="#000" stroke-width="1.14">2</text>
<text transform="translate(415.34,493.63) scale(0.10147,0.10852)" font-size="100" font-weight="normal" class="lb" stroke="#000" stroke-width="1.14">3</text>
<text transform="translate(429.40,493.63) scale(0.10147,0.10852)" font-size="100" font-weight="normal" class="lb" stroke="#000" stroke-width="1.14">4</text>
<text transform="translate(441.90,493.63) scale(0.10147,0.10852)" font-size="100" font-weight="normal" class="lb" stroke="#000" stroke-width="1.14">5</text>
<text transform="translate(455.88,493.63) scale(0.10147,0.10852)" font-size="100" font-weight="normal" class="lb" stroke="#000" stroke-width="1.14">6</text>
<text transform="translate(469.95,493.63) scale(0.10147,0.10852)" font-size="100" font-weight="normal" class="lb" stroke="#000" stroke-width="1.14">7</text>
<text transform="translate(484.09,493.63) scale(0.10147,0.10852)" font-size="100" font-weight="normal" class="lb" stroke="#000" stroke-width="1.14">8</text>
<text transform="translate(498.07,493.63) scale(0.10147,0.10852)" font-size="100" font-weight="normal" class="lb" stroke="#000" stroke-width="1.14">9</text>
<text transform="translate(507.59,493.63) scale(0.10147,0.10852)" font-size="100" font-weight="normal" class="lb" stroke="#000" stroke-width="1.14">10</text>
<text transform="translate(522.11,493.63) scale(0.10147,0.10852)" font-size="100" font-weight="normal" class="lb" stroke="#000" stroke-width="1.14">11</text>
<text transform="translate(535.80,493.63) scale(0.10147,0.10852)" font-size="100" font-weight="normal" class="lb" stroke="#000" stroke-width="1.14">12</text>
<text transform="translate(551.12,493.63) scale(0.10147,0.10852)" font-size="100" font-weight="normal" class="lb" stroke="#000" stroke-width="1.14">1</text>
<text transform="translate(563.70,493.63) scale(0.10147,0.10852)" font-size="100" font-weight="normal" class="lb" stroke="#000" stroke-width="1.14">2</text>
<text transform="translate(577.84,493.63) scale(0.10147,0.10852)" font-size="100" font-weight="normal" class="lb" stroke="#000" stroke-width="1.14">3</text>
<text transform="translate(591.90,493.63) scale(0.10147,0.10852)" font-size="100" font-weight="normal" class="lb" stroke="#000" stroke-width="1.14">4</text>
<text transform="translate(605.96,493.63) scale(0.10147,0.10852)" font-size="100" font-weight="normal" class="lb" stroke="#000" stroke-width="1.14">5</text>
<text transform="translate(619.95,493.63) scale(0.10147,0.10852)" font-size="100" font-weight="normal" class="lb" stroke="#000" stroke-width="1.14">6</text>
<text transform="translate(632.45,493.63) scale(0.10147,0.10852)" font-size="100" font-weight="normal" class="lb" stroke="#000" stroke-width="1.14">7</text>
<text transform="translate(646.59,493.63) scale(0.10147,0.10852)" font-size="100" font-weight="normal" class="lb" stroke="#000" stroke-width="1.14">8</text>
<text transform="translate(660.57,493.63) scale(0.10147,0.10852)" font-size="100" font-weight="normal" class="lb" stroke="#000" stroke-width="1.14">9</text>
<text transform="translate(671.65,493.63) scale(0.10147,0.10852)" font-size="100" font-weight="normal" class="lb" stroke="#000" stroke-width="1.14">10</text>
<text transform="translate(686.17,493.63) scale(0.10147,0.10852)" font-size="100" font-weight="normal" class="lb" stroke="#000" stroke-width="1.14">11</text>
<text transform="translate(698.30,493.63) scale(0.10147,0.10852)" font-size="100" font-weight="normal" class="lb" stroke="#000" stroke-width="1.14">12</text>
<text transform="translate(713.62,493.63) scale(0.10147,0.10852)" font-size="100" font-weight="normal" class="lb" stroke="#000" stroke-width="1.14">1</text>
<text transform="translate(726.20,493.63) scale(0.10147,0.10852)" font-size="100" font-weight="normal" class="lb" stroke="#000" stroke-width="1.14">2</text>
<text transform="translate(740.34,493.63) scale(0.10147,0.10852)" font-size="100" font-weight="normal" class="lb" stroke="#000" stroke-width="1.14">3</text>
<text transform="translate(754.40,493.63) scale(0.10147,0.10852)" font-size="100" font-weight="normal" class="lb" stroke="#000" stroke-width="1.14">4</text>
<text transform="translate(768.46,493.63) scale(0.10147,0.10852)" font-size="100" font-weight="normal" class="lb" stroke="#000" stroke-width="1.14">5</text>
<text transform="translate(782.45,493.63) scale(0.10147,0.10852)" font-size="100" font-weight="normal" class="lb" stroke="#000" stroke-width="1.14">6</text>
<text transform="translate(794.95,493.63) scale(0.10147,0.10852)" font-size="100" font-weight="normal" class="lb" stroke="#000" stroke-width="1.14">7</text>
<text transform="translate(809.09,493.63) scale(0.10147,0.10852)" font-size="100" font-weight="normal" class="lb" stroke="#000" stroke-width="1.14">8</text>
<text transform="translate(823.07,493.63) scale(0.10147,0.10852)" font-size="100" font-weight="normal" class="lb" stroke="#000" stroke-width="1.14">9</text>
<text transform="translate(834.15,493.63) scale(0.10147,0.10852)" font-size="100" font-weight="normal" class="lb" stroke="#000" stroke-width="1.14">10</text>
<text transform="translate(848.67,493.63) scale(0.10147,0.10852)" font-size="100" font-weight="normal" class="lb" stroke="#000" stroke-width="1.14">11</text>
<text transform="translate(860.80,493.63) scale(0.10147,0.10852)" font-size="100" font-weight="normal" class="lb" stroke="#000" stroke-width="1.14">12</text>
<text transform="translate(61.69,508.25) scale(0.10233,0.10879)" font-size="100" font-weight="normal" class="lb" stroke="#000" stroke-width="2.37">月</text>
<text transform="translate(74.19,508.25) scale(0.10233,0.10879)" font-size="100" font-weight="normal" class="lb" stroke="#000" stroke-width="2.37">月</text>
<text transform="translate(88.26,508.25) scale(0.10233,0.10879)" font-size="100" font-weight="normal" class="lb" stroke="#000" stroke-width="2.37">月</text>
<text transform="translate(102.32,508.25) scale(0.10233,0.10879)" font-size="100" font-weight="normal" class="lb" stroke="#000" stroke-width="2.37">月</text>
<text transform="translate(114.82,508.25) scale(0.10233,0.10879)" font-size="100" font-weight="normal" class="lb" stroke="#000" stroke-width="2.37">月</text>
<text transform="translate(128.88,508.25) scale(0.10233,0.10879)" font-size="100" font-weight="normal" class="lb" stroke="#000" stroke-width="2.37">月</text>
<text transform="translate(142.94,508.25) scale(0.10233,0.10879)" font-size="100" font-weight="normal" class="lb" stroke="#000" stroke-width="2.37">月</text>
<text transform="translate(157.01,508.25) scale(0.10233,0.10879)" font-size="100" font-weight="normal" class="lb" stroke="#000" stroke-width="2.37">月</text>
<text transform="translate(171.07,508.25) scale(0.10233,0.10879)" font-size="100" font-weight="normal" class="lb" stroke="#000" stroke-width="2.37">月</text>
<text transform="translate(183.57,508.25) scale(0.10233,0.10879)" font-size="100" font-weight="normal" class="lb" stroke="#000" stroke-width="2.37">月</text>
<text transform="translate(197.63,508.25) scale(0.10233,0.10879)" font-size="100" font-weight="normal" class="lb" stroke="#000" stroke-width="2.37">月</text>
<text transform="translate(211.69,508.25) scale(0.10233,0.10879)" font-size="100" font-weight="normal" class="lb" stroke="#000" stroke-width="2.37">月</text>
<text transform="translate(224.19,508.25) scale(0.10233,0.10879)" font-size="100" font-weight="normal" class="lb" stroke="#000" stroke-width="2.37">月</text>
<text transform="translate(236.69,508.25) scale(0.10233,0.10879)" font-size="100" font-weight="normal" class="lb" stroke="#000" stroke-width="2.37">月</text>
<text transform="translate(250.76,508.25) scale(0.10233,0.10879)" font-size="100" font-weight="normal" class="lb" stroke="#000" stroke-width="2.37">月</text>
<text transform="translate(264.82,508.25) scale(0.10233,0.10879)" font-size="100" font-weight="normal" class="lb" stroke="#000" stroke-width="2.37">月</text>
<text transform="translate(277.32,508.25) scale(0.10233,0.10879)" font-size="100" font-weight="normal" class="lb" stroke="#000" stroke-width="2.37">月</text>
<text transform="translate(291.38,508.25) scale(0.10233,0.10879)" font-size="100" font-weight="normal" class="lb" stroke="#000" stroke-width="2.37">月</text>
<text transform="translate(305.44,508.25) scale(0.10233,0.10879)" font-size="100" font-weight="normal" class="lb" stroke="#000" stroke-width="2.37">月</text>
<text transform="translate(319.51,508.25) scale(0.10233,0.10879)" font-size="100" font-weight="normal" class="lb" stroke="#000" stroke-width="2.37">月</text>
<text transform="translate(333.57,508.25) scale(0.10233,0.10879)" font-size="100" font-weight="normal" class="lb" stroke="#000" stroke-width="2.37">月</text>
<text transform="translate(346.07,508.25) scale(0.10233,0.10879)" font-size="100" font-weight="normal" class="lb" stroke="#000" stroke-width="2.37">月</text>
<text transform="translate(360.13,508.25) scale(0.10233,0.10879)" font-size="100" font-weight="normal" class="lb" stroke="#000" stroke-width="2.37">月</text>
<text transform="translate(374.19,508.25) scale(0.10233,0.10879)" font-size="100" font-weight="normal" class="lb" stroke="#000" stroke-width="2.37">月</text>
<text transform="translate(386.69,508.25) scale(0.10233,0.10879)" font-size="100" font-weight="normal" class="lb" stroke="#000" stroke-width="2.37">月</text>
<text transform="translate(399.19,508.25) scale(0.10233,0.10879)" font-size="100" font-weight="normal" class="lb" stroke="#000" stroke-width="2.37">月</text>
<text transform="translate(413.26,508.25) scale(0.10233,0.10879)" font-size="100" font-weight="normal" class="lb" stroke="#000" stroke-width="2.37">月</text>
<text transform="translate(427.32,508.25) scale(0.10233,0.10879)" font-size="100" font-weight="normal" class="lb" stroke="#000" stroke-width="2.37">月</text>
<text transform="translate(439.82,508.25) scale(0.10233,0.10879)" font-size="100" font-weight="normal" class="lb" stroke="#000" stroke-width="2.37">月</text>
<text transform="translate(453.88,508.25) scale(0.10233,0.10879)" font-size="100" font-weight="normal" class="lb" stroke="#000" stroke-width="2.37">月</text>
<text transform="translate(467.94,508.25) scale(0.10233,0.10879)" font-size="100" font-weight="normal" class="lb" stroke="#000" stroke-width="2.37">月</text>
<text transform="translate(482.01,508.25) scale(0.10233,0.10879)" font-size="100" font-weight="normal" class="lb" stroke="#000" stroke-width="2.37">月</text>
<text transform="translate(496.07,508.25) scale(0.10233,0.10879)" font-size="100" font-weight="normal" class="lb" stroke="#000" stroke-width="2.37">月</text>
<text transform="translate(508.57,508.25) scale(0.10233,0.10879)" font-size="100" font-weight="normal" class="lb" stroke="#000" stroke-width="2.37">月</text>
<text transform="translate(522.63,508.25) scale(0.10233,0.10879)" font-size="100" font-weight="normal" class="lb" stroke="#000" stroke-width="2.37">月</text>
<text transform="translate(536.69,508.25) scale(0.10233,0.10879)" font-size="100" font-weight="normal" class="lb" stroke="#000" stroke-width="2.37">月</text>
<text transform="translate(549.19,508.25) scale(0.10233,0.10879)" font-size="100" font-weight="normal" class="lb" stroke="#000" stroke-width="2.37">月</text>
<text transform="translate(561.69,508.25) scale(0.10233,0.10879)" font-size="100" font-weight="normal" class="lb" stroke="#000" stroke-width="2.37">月</text>
<text transform="translate(575.76,508.25) scale(0.10233,0.10879)" font-size="100" font-weight="normal" class="lb" stroke="#000" stroke-width="2.37">月</text>
<text transform="translate(589.82,508.25) scale(0.10233,0.10879)" font-size="100" font-weight="normal" class="lb" stroke="#000" stroke-width="2.37">月</text>
<text transform="translate(603.88,508.25) scale(0.10233,0.10879)" font-size="100" font-weight="normal" class="lb" stroke="#000" stroke-width="2.37">月</text>
<text transform="translate(617.94,508.25) scale(0.10233,0.10879)" font-size="100" font-weight="normal" class="lb" stroke="#000" stroke-width="2.37">月</text>
<text transform="translate(630.44,508.25) scale(0.10233,0.10879)" font-size="100" font-weight="normal" class="lb" stroke="#000" stroke-width="2.37">月</text>
<text transform="translate(644.51,508.25) scale(0.10233,0.10879)" font-size="100" font-weight="normal" class="lb" stroke="#000" stroke-width="2.37">月</text>
<text transform="translate(658.57,508.25) scale(0.10233,0.10879)" font-size="100" font-weight="normal" class="lb" stroke="#000" stroke-width="2.37">月</text>
<text transform="translate(672.63,508.25) scale(0.10233,0.10879)" font-size="100" font-weight="normal" class="lb" stroke="#000" stroke-width="2.37">月</text>
<text transform="translate(686.69,508.25) scale(0.10233,0.10879)" font-size="100" font-weight="normal" class="lb" stroke="#000" stroke-width="2.37">月</text>
<text transform="translate(699.19,508.25) scale(0.10233,0.10879)" font-size="100" font-weight="normal" class="lb" stroke="#000" stroke-width="2.37">月</text>
<text transform="translate(711.69,508.25) scale(0.10233,0.10879)" font-size="100" font-weight="normal" class="lb" stroke="#000" stroke-width="2.37">月</text>
<text transform="translate(724.19,508.25) scale(0.10233,0.10879)" font-size="100" font-weight="normal" class="lb" stroke="#000" stroke-width="2.37">月</text>
<text transform="translate(738.26,508.25) scale(0.10233,0.10879)" font-size="100" font-weight="normal" class="lb" stroke="#000" stroke-width="2.37">月</text>
<text transform="translate(752.32,508.25) scale(0.10233,0.10879)" font-size="100" font-weight="normal" class="lb" stroke="#000" stroke-width="2.37">月</text>
<text transform="translate(766.38,508.25) scale(0.10233,0.10879)" font-size="100" font-weight="normal" class="lb" stroke="#000" stroke-width="2.37">月</text>
<text transform="translate(780.44,508.25) scale(0.10233,0.10879)" font-size="100" font-weight="normal" class="lb" stroke="#000" stroke-width="2.37">月</text>
<text transform="translate(792.94,508.25) scale(0.10233,0.10879)" font-size="100" font-weight="normal" class="lb" stroke="#000" stroke-width="2.37">月</text>
<text transform="translate(807.01,508.25) scale(0.10233,0.10879)" font-size="100" font-weight="normal" class="lb" stroke="#000" stroke-width="2.37">月</text>
<text transform="translate(821.07,508.25) scale(0.10233,0.10879)" font-size="100" font-weight="normal" class="lb" stroke="#000" stroke-width="2.37">月</text>
<text transform="translate(835.13,508.25) scale(0.10233,0.10879)" font-size="100" font-weight="normal" class="lb" stroke="#000" stroke-width="2.37">月</text>
<text transform="translate(849.19,508.25) scale(0.10233,0.10879)" font-size="100" font-weight="normal" class="lb" stroke="#000" stroke-width="2.37">月</text>
<text transform="translate(861.69,508.25) scale(0.10233,0.10879)" font-size="100" font-weight="normal" class="lb" stroke="#000" stroke-width="2.37">月</text>
<text transform="translate(122.99,533.82) scale(0.10902,0.11270)" font-size="100" font-weight="normal" class="lb" stroke="#000" stroke-width="1.08">2022</text>
<text transform="translate(148.40,533.47) scale(0.10412,0.10667)" font-size="100" font-weight="normal" class="lb" stroke="#000" stroke-width="2.85">年</text>
<text transform="translate(285.49,533.82) scale(0.10902,0.11270)" font-size="100" font-weight="normal" class="lb" stroke="#000" stroke-width="1.08">2023</text>
<text transform="translate(310.90,533.47) scale(0.10412,0.10667)" font-size="100" font-weight="normal" class="lb" stroke="#000" stroke-width="2.85">年</text>
<text transform="translate(447.99,533.82) scale(0.10823,0.11270)" font-size="100" font-weight="normal" class="lb" stroke="#000" stroke-width="1.09">2024</text>
<text transform="translate(473.40,533.47) scale(0.10412,0.10667)" font-size="100" font-weight="normal" class="lb" stroke="#000" stroke-width="2.85">年</text>
<text transform="translate(610.49,533.82) scale(0.10902,0.11270)" font-size="100" font-weight="normal" class="lb" stroke="#000" stroke-width="1.08">2025</text>
<text transform="translate(635.90,533.47) scale(0.10412,0.10667)" font-size="100" font-weight="normal" class="lb" stroke="#000" stroke-width="2.85">年</text>
<text transform="translate(772.99,533.82) scale(0.10902,0.11270)" font-size="100" font-weight="normal" class="lb" stroke="#000" stroke-width="1.08">2026</text>
<text transform="translate(798.40,533.47) scale(0.10412,0.10667)" font-size="100" font-weight="normal" class="lb" stroke="#000" stroke-width="2.85">年</text>
<text transform="translate(25.99,457.81) scale(0.21856,0.21843)" font-size="100" font-weight="normal" stroke="#000" stroke-width="0.55">0</text>
<text transform="translate(13.83,420.40) scale(0.21856,0.21843)" font-size="100" font-weight="normal" stroke="#000" stroke-width="0.55">10</text>
<text transform="translate(13.83,382.99) scale(0.21856,0.21843)" font-size="100" font-weight="normal" stroke="#000" stroke-width="0.55">20</text>
<text transform="translate(13.83,345.58) scale(0.21856,0.21843)" font-size="100" font-weight="normal" stroke="#000" stroke-width="0.55">30</text>
<text transform="translate(13.83,308.17) scale(0.21856,0.21843)" font-size="100" font-weight="normal" stroke="#000" stroke-width="0.55">40</text>
<text transform="translate(13.83,270.76) scale(0.21856,0.21843)" font-size="100" font-weight="normal" stroke="#000" stroke-width="0.55">50</text>
<text transform="translate(13.83,233.35) scale(0.21856,0.21843)" font-size="100" font-weight="normal" stroke="#000" stroke-width="0.55">60</text>
<text transform="translate(13.83,195.94) scale(0.21856,0.21843)" font-size="100" font-weight="normal" stroke="#000" stroke-width="0.55">70</text>
<text transform="translate(13.83,158.53) scale(0.21856,0.21843)" font-size="100" font-weight="normal" stroke="#000" stroke-width="0.55">80</text>
<text transform="translate(13.83,121.12) scale(0.21856,0.21843)" font-size="100" font-weight="normal" stroke="#000" stroke-width="0.55">90</text>
<text transform="translate(1.68,83.71) scale(0.21856,0.21843)" font-size="100" font-weight="normal" stroke="#000" stroke-width="0.55">100</text>
<text transform="translate(333.12,24.80) scale(0.22057,0.23149)" font-size="100" font-weight="bold" stroke="#000" stroke-width="1.99">hMPV</text>
<text transform="translate(398.54,23.26) scale(0.22811,0.21130)" font-size="100" font-weight="bold" stroke="#000" stroke-width="2.05">抗原検査</text>
<text transform="translate(507.19,23.45) scale(0.23598,0.21746)" font-size="100" font-weight="bold" stroke="#000" stroke-width="1.98">陽性数</text>
<text transform="translate(245.89,55.53) scale(0.21570,0.23930)" font-size="100" font-weight="normal" stroke="#000" stroke-width="1.32">2022</text>
<text transform="translate(296.00,55.03) scale(0.21031,0.22187)" font-size="100" font-weight="normal" stroke="#000" stroke-width="1.39">年</text>
<text transform="translate(318.66,54.70) scale(0.22827,0.21780)" font-size="100" font-weight="normal" stroke="#000" stroke-width="1.35">第</text>
<text transform="translate(341.46,55.90) scale(0.22187,0.24462)" font-size="100" font-weight="normal" stroke="#000" stroke-width="1.29">2</text>
<text transform="translate(355.15,55.67) scale(0.23085,0.22369)" font-size="100" font-weight="normal" stroke="#000" stroke-width="1.32">週</text>
<text transform="translate(374.71,56.40) scale(0.30588,0.36800)" font-size="100" font-weight="normal" stroke="#000" stroke-width="0.89">～</text>
<text transform="translate(401.63,55.53) scale(0.20728,0.23930)" font-size="100" font-weight="normal" stroke="#000" stroke-width="1.34">2026</text>
<text transform="translate(450.40,55.03) scale(0.21443,0.22187)" font-size="100" font-weight="normal" stroke="#000" stroke-width="1.38">年</text>
<text transform="translate(475.16,54.70) scale(0.22827,0.21780)" font-size="100" font-weight="normal" stroke="#000" stroke-width="1.35">第</text>
<text transform="translate(497.96,55.90) scale(0.22187,0.24462)" font-size="100" font-weight="normal" stroke="#000" stroke-width="1.29">2</text>
<text transform="translate(511.67,55.67) scale(0.22234,0.22369)" font-size="100" font-weight="normal" stroke="#000" stroke-width="1.35">週</text>
<text transform="translate(522.01,53.79) scale(0.25455,0.23256)" font-size="100" font-weight="normal" stroke="#000" stroke-width="1.23">（</text>
<text transform="translate(547.16,55.54) scale(0.24629,0.22933)" font-size="100" font-weight="normal" stroke="#000" stroke-width="1.26">1/5</text>
<text transform="translate(578.47,56.40) scale(0.30756,0.36800)" font-size="100" font-weight="normal" stroke="#000" stroke-width="0.89">～</text>
<text transform="translate(606.23,55.54) scale(0.23572,0.22933)" font-size="100" font-weight="normal" stroke="#000" stroke-width="1.29">1/11</text>
<text transform="translate(653.09,53.79) scale(0.23636,0.23256)" font-size="100" font-weight="normal" stroke="#000" stroke-width="1.28">）</text>
<text transform="translate(19.73,49.97) scale(0.16364,0.19302)" font-size="100" font-weight="normal" stroke="#000" stroke-width="1.12">（</text>
<text transform="translate(39.40,51.11) scale(0.18969,0.19574)" font-size="100" font-weight="normal" stroke="#000" stroke-width="1.04">件</text>
<text transform="translate(59.08,49.97) scale(0.22273,0.19302)" font-size="100" font-weight="normal" stroke="#000" stroke-width="0.96">）</text>
<text transform="translate(868.15,474.55) scale(0.22273,0.19419)" font-size="100" font-weight="normal" stroke="#000" stroke-width="0.96">（</text>
<text transform="translate(890.90,476.55) scale(0.20000,0.19504)" font-size="100" font-weight="normal" stroke="#000" stroke-width="1.01">週</text>
<text transform="translate(909.15,474.55) scale(0.26818,0.19419)" font-size="100" font-weight="normal" stroke="#000" stroke-width="0.87">）</text>
<text transform="translate(772.24,58.10) scale(0.17032,0.17838)" font-size="100" font-weight="normal">hMPV</text>
<text transform="translate(818.46,56.72) scale(0.18597,0.16392)" font-size="100" font-weight="normal" stroke="#000" stroke-width="1.71">陽性</text>
<text transform="translate(669.17,600.21) scale(0.18636,0.12674)" font-size="100" font-weight="normal" stroke="#000" stroke-width="1.28">（</text>
<text transform="translate(687.20,601.11) scale(0.13913,0.13265)" font-size="100" font-weight="normal" stroke="#000" stroke-width="1.47">検査</text>
<text transform="translate(714.71,600.71) scale(0.10699,0.12536)" font-size="100" font-weight="normal" stroke="#000" stroke-width="1.72">キット</text>
<text transform="translate(750.79,601.30) scale(0.21943,0.11294)" font-size="100" font-weight="normal" stroke="#000" stroke-width="1.20">:</text>
<text transform="translate(758.11,600.29) scale(0.12752,0.11317)" font-size="100" font-weight="normal" stroke="#000" stroke-width="1.66">イムノエース</text>
<text transform="translate(836.10,596.37) scale(0.08987,0.08209)" font-size="100" font-weight="normal" stroke="#000" stroke-width="2.33">®</text>
<text transform="translate(852.14,601.70) scale(0.13731,0.12936)" font-size="100" font-weight="normal">hMPV</text>
<text transform="translate(888.84,600.21) scale(0.15455,0.12674)" font-size="100" font-weight="normal" stroke="#000" stroke-width="1.42">）</text>
</svg>
</body></html>
